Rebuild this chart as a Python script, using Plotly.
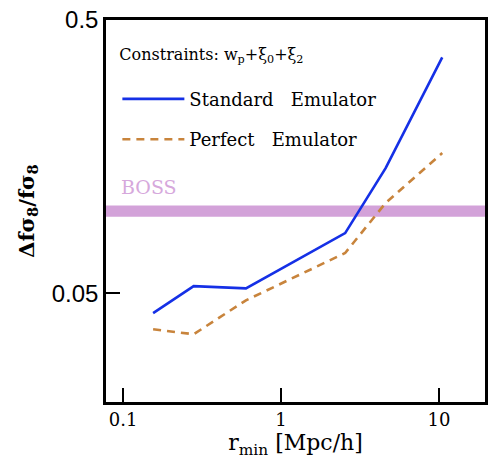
import plotly.graph_objects as go

# Minimum fitting scale r_min [Mpc/h]
r_min = [0.155, 0.28, 0.60, 2.55, 4.6, 10.5]

# Fractional error on f*sigma_8 for each emulator setup
standard_err = [0.0423, 0.0531, 0.0521, 0.083, 0.1435, 0.365]
perfect_err = [0.0369, 0.0354, 0.0471, 0.0702, 0.107, 0.163]

# BOSS reference precision band
boss_low, boss_high = 0.0953, 0.1048

x_major = [0.1, 1, 10]
x_major_text = ["0.1", "1", "10"]
y_major = [0.05, 0.5]
y_major_text = ["0.05", "0.5"]

serif = "DejaVu Serif"

fig = go.Figure()

fig.add_trace(go.Scatter(
    x=r_min, y=standard_err, mode="lines",
    name="Standard\u00a0\u00a0\u00a0Emulator", legendgroup="a",
    line=dict(color="#1530e6", width=2.6),
))
fig.add_trace(go.Scatter(
    x=r_min, y=perfect_err, mode="lines",
    name="Perfect\u00a0\u00a0\u00a0Emulator", legendgroup="b",
    line=dict(color="#c8843c", width=2.6, dash="8px,6px"),
))

fig.add_shape(type="rect", xref="paper", yref="y", x0=0, x1=1,
              y0=boss_low, y1=boss_high, fillcolor="#d3a2d9",
              line=dict(width=0), layer="below")
fig.add_annotation(text="BOSS", xref="paper", yref="paper", x=0.035, y=0.563,
                   xanchor="left", yanchor="middle", showarrow=False,
                   font=dict(family=serif, size=19, color="#d6a8dc"))

fig.update_xaxes(
    type="log", showgrid=False, zeroline=False, showline=True,
    linecolor="black", linewidth=2.5, mirror=True,
    ticks="inside", ticklen=14, tickwidth=2, tickcolor="black",
    range=[-1.108, 1.292],
    tickmode="array", tickvals=x_major, ticktext=x_major_text,
    tickfont=dict(family=serif, size=18, color="black"),
    title=dict(text="r<sub>min</sub> [Mpc/h]",
               font=dict(family=serif, size=22, color="black"), standoff=6),
)
fig.update_yaxes(
    type="log", showgrid=False, zeroline=False, showline=True,
    linecolor="black", linewidth=2.5, mirror=True,
    ticks="inside", ticklen=14, tickwidth=2, tickcolor="black",
    range=[-1.699, -0.301],
    tickmode="array", tickvals=y_major, ticktext=y_major_text,
    tickfont=dict(family="Liberation Sans", size=24, color="black"),
    title=dict(text="<b>\u0394f\u03c3<sub>8</sub>/f\u03c3<sub>8</sub></b>",
               font=dict(family=serif, size=21, color="black"), standoff=12),
)

fig.update_layout(
    width=489, height=466,
    margin=dict(l=106, r=1, t=20, b=64),
    paper_bgcolor="white", plot_bgcolor="white",
    showlegend=True,
    legend=dict(
        x=0.03, y=0.95, xanchor="left", yanchor="top",
        bgcolor="rgba(0,0,0,0)", borderwidth=0,
        font=dict(family=serif, size=18, color="black"),
        title=dict(text="Constraints: w<sub>p</sub>+\u03be<sub>0</sub>+\u03be<sub>2</sub><br> ",
                   font=dict(family=serif, size=16, color="black"), side="top"),
        itemwidth=62, tracegroupgap=14,
    ),
)

fig.write_html("out.html")
